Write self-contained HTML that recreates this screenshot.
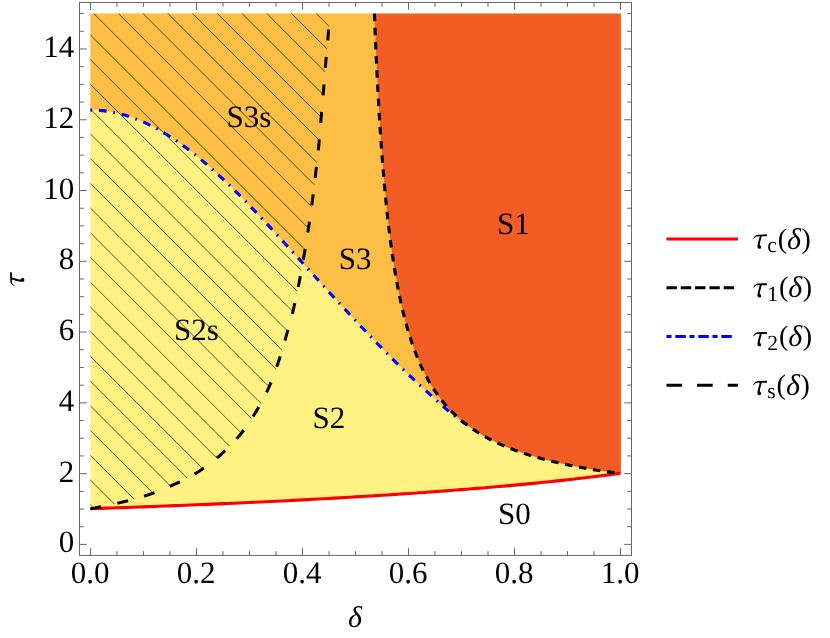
<!DOCTYPE html>
<html><head><meta charset="utf-8"><title>Phase diagram</title>
<style>html,body{margin:0;padding:0;background:#fff}body{width:830px;height:638px;overflow:hidden;font-family:"Liberation Serif",serif}svg{display:block;text-rendering:geometricPrecision;will-change:transform}</style></head>
<body>
<svg width="830" height="638" viewBox="0 0 830 638">
<rect width="830" height="638" fill="#fff"/>
<polygon fill="#FFF282" points="90.45,508.71 95.75,508.54 101.05,508.36 106.35,508.17 111.65,507.99 116.95,507.81 122.25,507.62 127.55,507.43 132.85,507.24 138.15,507.05 143.45,506.85 148.76,506.65 154.06,506.45 159.36,506.25 164.66,506.05 169.96,505.84 175.26,505.64 180.56,505.43 185.86,505.21 191.16,505.00 196.46,504.78 201.76,504.56 207.06,504.34 212.36,504.11 217.66,503.89 222.96,503.66 228.26,503.43 233.56,503.19 238.86,502.95 244.16,502.71 249.46,502.47 254.77,502.22 260.07,501.97 265.37,501.72 270.67,501.47 275.97,501.21 281.27,500.95 286.57,500.68 291.87,500.41 297.17,500.14 302.47,499.87 307.77,499.59 313.07,499.31 318.37,499.02 323.67,498.73 328.97,498.44 334.27,498.14 339.57,497.84 344.87,497.54 350.17,497.23 355.47,496.92 360.78,496.60 366.08,496.28 371.38,495.95 376.68,495.62 381.98,495.29 387.28,494.95 392.58,494.61 397.88,494.26 403.18,493.91 408.48,493.55 413.78,493.18 419.08,492.81 424.38,492.44 429.68,492.06 434.98,491.67 440.28,491.28 445.58,490.89 450.88,490.48 456.18,490.07 461.49,489.66 466.79,489.24 472.09,488.81 477.39,488.37 482.69,487.93 487.99,487.48 493.29,487.02 498.59,486.56 503.89,486.09 509.19,485.61 514.49,485.12 519.79,484.63 525.09,484.12 530.39,483.61 535.69,483.09 540.99,482.56 546.29,482.02 551.59,481.47 556.89,480.91 562.19,480.34 567.50,479.76 572.80,479.17 578.10,478.57 583.40,477.96 588.70,477.33 594.00,476.70 599.30,476.05 604.60,475.39 609.90,474.71 615.20,474.03 620.50,473.33 620.85,473.63 620.85,13.59 90.45,13.59"/>
<polygon fill="#FDBE45" points="90.40,110.08 92.40,110.10 94.40,110.12 96.40,110.18 98.40,110.29 100.40,110.44 102.40,110.62 104.40,110.84 106.40,111.09 108.40,111.38 110.40,111.71 112.40,112.07 114.40,112.47 116.40,112.90 118.40,113.36 120.40,113.86 122.40,114.40 124.40,114.97 126.40,115.57 128.40,116.20 130.41,116.87 132.40,117.57 134.37,118.30 136.33,119.07 138.30,119.87 140.29,120.70 142.30,121.56 144.30,122.45 146.30,123.38 148.30,124.33 150.30,125.32 152.30,126.34 154.30,127.38 156.30,128.46 158.30,129.56 160.30,130.70 162.30,131.86 164.30,133.05 166.30,134.27 168.30,135.51 170.30,136.78 172.30,138.08 174.30,139.41 176.30,140.77 178.30,142.15 180.30,143.56 182.30,144.99 184.30,146.45 186.30,147.93 188.30,149.44 190.30,150.97 192.30,152.52 194.30,154.09 196.30,155.69 198.30,157.31 200.30,158.95 202.30,160.62 204.30,162.31 206.30,164.02 208.30,165.75 210.30,167.50 212.30,169.27 214.30,171.06 216.30,172.87 218.30,174.70 220.30,176.55 222.30,178.41 224.30,180.29 226.31,182.19 228.30,184.11 230.27,186.04 232.23,187.99 234.20,189.95 236.19,191.93 238.20,193.92 240.20,195.92 242.20,197.94 244.20,199.97 246.20,202.02 248.20,204.08 250.20,206.15 252.20,208.23 254.20,210.32 256.20,212.42 258.20,214.53 260.20,216.65 262.20,218.79 264.20,220.93 266.20,223.08 268.20,225.23 270.20,227.39 272.20,229.56 274.20,231.73 276.20,233.91 278.20,236.10 280.20,238.29 282.20,240.48 284.20,242.68 286.20,244.88 288.20,247.08 290.20,249.28 292.20,251.49 294.20,253.69 296.20,255.90 298.20,258.10 300.20,260.31 302.20,262.52 304.20,264.72 306.20,266.93 308.20,269.13 310.20,271.33 312.20,273.53 314.20,275.73 316.20,277.93 318.20,280.12 320.20,282.31 322.21,284.50 324.20,286.68 326.17,288.86 328.13,291.04 330.10,293.21 332.09,295.38 334.10,297.55 336.10,299.72 338.10,301.89 340.10,304.05 342.10,306.21 344.10,308.36 346.10,310.51 348.10,312.66 350.10,314.81 352.10,316.95 354.10,319.09 356.10,321.22 358.10,323.36 360.10,325.48 362.10,327.60 364.10,329.71 366.10,331.82 368.10,333.93 370.10,336.03 372.10,338.12 374.10,340.20 376.10,342.28 378.10,344.35 380.10,346.41 382.10,348.47 384.10,350.51 386.10,352.54 388.10,354.56 390.10,356.57 392.10,358.57 394.10,360.56 396.10,362.54 398.10,364.50 400.10,366.46 402.10,368.40 404.10,370.33 406.10,372.26 408.10,374.17 410.10,376.07 412.10,377.95 414.10,379.83 416.10,381.70 418.11,383.56 420.10,385.41 422.07,387.25 424.03,389.08 426.00,390.91 427.99,392.73 430.00,394.54 432.00,396.35 434.00,398.16 436.00,399.96 438.00,401.75 440.00,403.53 442.00,405.31 444.00,407.07 446.00,408.82 448.00,410.54 450.00,412.24 452.00,413.91 454.00,415.54 456.00,417.12 458.00,418.65 460.00,420.13 462.00,421.53 464.00,422.82 466.00,424.02 468.00,425.23 467.28,425.13 465.49,423.77 463.71,422.37 461.93,420.92 460.15,419.42 458.37,417.86 456.59,416.26 454.80,414.59 453.02,412.87 451.24,411.08 449.46,409.23 447.68,407.30 445.90,405.29 444.11,403.21 442.33,401.04 440.55,398.78 438.77,396.42 436.99,393.96 435.21,391.39 433.42,388.70 431.64,385.88 429.86,382.93 428.08,379.84 426.30,376.59 424.52,373.17 422.73,369.57 420.95,365.78 419.17,361.77 417.39,357.54 415.61,353.05 413.83,348.29 412.04,343.22 410.26,337.83 408.48,332.08 408.19,331.12 407.91,330.15 407.62,329.16 407.33,328.17 407.05,327.17 406.76,326.15 406.48,325.12 406.19,324.09 405.90,323.04 405.62,321.97 405.33,320.90 405.04,319.81 404.76,318.71 404.47,317.60 404.18,316.48 403.90,315.34 403.61,314.19 403.33,313.02 403.04,311.84 402.75,310.65 402.47,309.44 402.18,308.21 401.89,306.97 401.61,305.72 401.32,304.45 401.04,303.17 400.75,301.86 400.46,300.55 400.18,299.21 399.89,297.86 399.60,296.49 399.32,295.10 399.03,293.69 398.74,292.27 398.46,290.82 398.17,289.36 397.89,287.88 397.60,286.37 397.31,284.85 397.03,283.31 396.74,281.74 396.45,280.15 396.17,278.54 395.88,276.91 395.59,275.25 395.31,273.57 395.02,271.87 394.74,270.14 394.45,268.38 394.16,266.60 393.88,264.79 393.59,262.96 393.30,261.10 393.02,259.20 392.73,257.28 392.44,255.34 392.16,253.35 391.87,251.34 391.59,249.30 391.30,247.22 391.01,245.12 390.73,242.97 390.44,240.79 390.15,238.58 389.87,236.33 389.58,234.04 389.30,231.71 389.01,229.34 388.72,226.93 388.44,224.48 388.15,221.99 387.86,219.45 387.58,216.87 387.29,214.24 387.00,211.56 386.72,208.84 386.43,206.06 386.15,203.23 385.86,200.35 385.57,197.41 385.29,194.42 385.00,191.37 384.71,188.26 384.43,185.09 384.14,181.85 383.85,178.55 383.57,175.18 383.28,171.74 383.00,168.23 382.71,164.65 382.42,160.99 382.14,157.25 381.85,153.44 381.56,149.53 381.28,145.54 380.99,141.46 380.70,137.29 380.42,133.03 380.13,128.66 379.85,124.19 379.56,119.62 379.27,114.93 378.99,110.13 378.70,105.21 378.41,100.17 378.13,95.00 377.84,89.70 377.56,84.27 377.27,78.69 376.98,72.96 376.70,67.07 376.41,61.03 376.12,54.82 375.84,48.43 375.55,41.86 375.26,35.10 374.98,28.14 374.69,20.98 374.41,13.59 90.45,13.59"/>
<polygon fill="#F25D26" points="374.41,13.59 374.69,20.98 374.98,28.14 375.26,35.10 375.55,41.86 375.84,48.43 376.12,54.82 376.41,61.03 376.70,67.07 376.98,72.96 377.27,78.69 377.56,84.27 377.84,89.70 378.13,95.00 378.41,100.17 378.70,105.21 378.99,110.13 379.27,114.93 379.56,119.62 379.85,124.19 380.13,128.66 380.42,133.03 380.70,137.29 380.99,141.46 381.28,145.54 381.56,149.53 381.85,153.44 382.14,157.25 382.42,160.99 382.71,164.65 383.00,168.23 383.28,171.74 383.57,175.18 383.85,178.55 384.14,181.85 384.43,185.09 384.71,188.26 385.00,191.37 385.29,194.42 385.57,197.41 385.86,200.35 386.15,203.23 386.43,206.06 386.72,208.84 387.00,211.56 387.29,214.24 387.58,216.87 387.86,219.45 388.15,221.99 388.44,224.48 388.72,226.93 389.01,229.34 389.30,231.71 389.58,234.04 389.87,236.33 390.15,238.58 390.44,240.79 390.73,242.97 391.01,245.12 391.30,247.22 391.59,249.30 391.87,251.34 392.16,253.35 392.44,255.34 392.73,257.28 393.02,259.20 393.30,261.10 393.59,262.96 393.88,264.79 394.16,266.60 394.45,268.38 394.74,270.14 395.02,271.87 395.31,273.57 395.59,275.25 395.88,276.91 396.17,278.54 396.45,280.15 396.74,281.74 397.03,283.31 397.31,284.85 397.60,286.37 397.89,287.88 398.17,289.36 398.46,290.82 398.74,292.27 399.03,293.69 399.32,295.10 399.60,296.49 399.89,297.86 400.18,299.21 400.46,300.55 400.75,301.86 401.04,303.17 401.32,304.45 401.61,305.72 401.89,306.97 402.18,308.21 402.47,309.44 402.75,310.65 403.04,311.84 403.33,313.02 403.61,314.19 403.90,315.34 404.18,316.48 404.47,317.60 404.76,318.71 405.04,319.81 405.33,320.90 405.62,321.97 405.90,323.04 406.19,324.09 406.48,325.12 406.76,326.15 407.05,327.17 407.33,328.17 407.62,329.16 407.91,330.15 408.19,331.12 408.48,332.08 410.26,337.83 412.04,343.22 413.83,348.29 415.61,353.05 417.39,357.54 419.17,361.77 420.95,365.78 422.73,369.57 424.52,373.17 426.30,376.59 428.08,379.84 429.86,382.93 431.64,385.88 433.42,388.70 435.21,391.39 436.99,393.96 438.77,396.42 440.55,398.78 442.33,401.04 444.11,403.21 445.90,405.29 447.68,407.30 449.46,409.23 451.24,411.08 453.02,412.87 454.80,414.59 456.59,416.26 458.37,417.86 460.15,419.42 461.93,420.92 463.71,422.37 465.49,423.77 467.28,425.13 469.06,426.44 470.84,427.72 472.62,428.95 474.40,430.15 476.18,431.32 477.97,432.45 479.75,433.55 481.53,434.61 483.31,435.65 485.09,436.66 486.87,437.64 488.66,438.59 490.44,439.52 492.22,440.43 494.00,441.31 495.78,442.17 497.56,443.01 499.35,443.83 501.13,444.62 502.91,445.40 504.69,446.16 506.47,446.90 508.25,447.63 510.04,448.34 511.82,449.03 513.60,449.70 515.38,450.36 517.16,451.01 518.94,451.64 520.73,452.26 522.51,452.87 524.29,453.46 526.07,454.04 527.85,454.61 529.63,455.16 531.42,455.71 533.20,456.24 534.98,456.77 536.76,457.28 538.54,457.78 540.32,458.28 542.11,458.76 543.89,459.24 545.67,459.70 547.45,460.16 549.23,460.61 551.01,461.05 552.80,461.48 554.58,461.91 556.36,462.33 558.14,462.74 559.92,463.14 561.70,463.54 563.49,463.93 565.27,464.31 567.05,464.69 568.83,465.06 570.61,465.42 572.39,465.78 574.18,466.13 575.96,466.48 577.74,466.82 579.52,467.15 581.30,467.48 583.08,467.81 584.87,468.13 586.65,468.44 588.43,468.75 590.21,469.06 591.99,469.36 593.77,469.66 595.56,469.95 597.34,470.24 599.12,470.52 600.90,470.80 602.68,471.08 604.46,471.35 606.25,471.61 608.03,471.88 609.81,472.14 611.59,472.40 613.37,472.65 615.15,472.90 616.94,473.14 618.72,473.39 620.50,473.63 620.85,473.63 620.85,13.59"/>
<defs><clipPath id="hc"><polygon points="90.40,508.90 93.10,508.35 95.80,507.81 98.49,507.27 101.19,506.74 103.88,506.21 106.58,505.66 109.28,505.10 111.98,504.53 114.69,503.93 117.40,503.30 120.12,502.65 122.86,501.99 125.62,501.32 128.37,500.63 131.12,499.92 133.87,499.19 136.61,498.43 139.33,497.65 142.03,496.84 144.70,496.00 147.35,495.13 149.97,494.23 152.58,493.30 155.18,492.35 157.76,491.38 160.32,490.37 162.88,489.34 165.43,488.29 167.97,487.21 170.50,486.10 173.03,484.97 175.57,483.82 178.11,482.64 180.64,481.44 183.16,480.21 185.65,478.96 188.12,477.67 190.55,476.35 192.95,474.99 195.30,473.60 197.60,472.18 199.87,470.72 202.10,469.24 204.29,467.72 206.46,466.18 208.61,464.59 210.73,462.98 212.83,461.32 214.92,459.63 217.00,457.90 219.08,456.12 221.16,454.29 223.22,452.41 225.28,450.50 227.31,448.55 229.30,446.58 231.26,444.59 233.16,442.59 235.01,440.59 236.80,438.60 238.51,436.62 240.14,434.67 241.71,432.72 243.23,430.76 244.71,428.78 246.17,426.77 247.61,424.71 249.06,422.58 250.52,420.39 252.00,418.10 253.52,415.71 255.06,413.20 256.62,410.62 258.18,407.97 259.73,405.27 261.25,402.56 262.73,399.84 264.16,397.15 265.52,394.49 266.80,391.90 268.00,389.36 269.12,386.86 270.18,384.38 271.19,381.92 272.16,379.47 273.10,377.01 274.01,374.55 274.91,372.06 275.80,369.55 276.70,367.00 277.59,364.42 278.46,361.81 279.31,359.18 280.14,356.54 280.95,353.88 281.75,351.21 282.54,348.54 283.33,345.86 284.12,343.18 284.90,340.50 285.69,337.82 286.47,335.14 287.25,332.45 288.02,329.75 288.79,327.05 289.54,324.35 290.28,321.64 291.01,318.93 291.71,316.21 292.40,313.50 293.07,310.78 293.71,308.05 294.34,305.31 294.96,302.56 295.56,299.82 296.15,297.08 296.73,294.34 297.29,291.61 297.85,288.90 298.40,286.20 298.94,283.52 299.46,280.87 299.96,278.24 300.45,275.61 300.94,272.99 301.41,270.36 301.89,267.73 302.36,265.08 302.83,262.40 303.30,259.70 303.78,256.96 304.25,254.19 304.72,251.40 305.20,248.59 305.66,245.77 306.12,242.95 306.58,240.13 307.03,237.33 307.47,234.55 307.90,231.80 308.32,229.08 308.73,226.37 309.14,223.69 309.54,221.01 309.93,218.34 310.32,215.68 310.70,213.02 311.07,210.36 311.44,207.68 311.80,205.00 312.15,202.31 312.50,199.62 312.84,196.94 313.17,194.25 313.49,191.56 313.82,188.86 314.14,186.16 314.46,183.45 314.78,180.73 315.10,178.00 315.43,175.26 315.76,172.50 316.09,169.74 316.43,166.97 316.76,164.19 317.08,161.41 317.40,158.63 317.71,155.85 318.01,153.07 318.30,150.30 318.57,147.53 318.83,144.75 319.08,141.98 319.32,139.20 319.55,136.43 319.78,133.65 320.01,130.88 320.23,128.11 320.46,125.35 320.70,122.60 320.94,119.85 321.18,117.11 321.43,114.38 321.67,111.65 321.91,108.92 322.15,106.20 322.39,103.48 322.63,100.75 322.87,98.03 323.10,95.30 323.33,92.57 323.55,89.84 323.77,87.12 323.98,84.39 324.20,81.66 324.42,78.93 324.63,76.20 324.85,73.47 325.07,70.74 325.30,68.00 325.53,65.26 325.77,62.50 326.00,59.75 326.24,56.99 326.48,54.22 326.72,51.47 326.97,48.71 327.21,45.96 327.46,43.23 327.70,40.50 327.95,37.79 328.19,35.08 328.44,32.39 328.69,29.70 328.94,27.01 329.20,24.33 329.45,21.65 329.70,18.97 329.95,16.29 330.20,13.60 90.45,13.59"/></clipPath></defs>
<path clip-path="url(#hc)" d="M88.45 -263.76L340.00 -12.21M88.45 -239.03L340.00 12.52M88.45 -214.30L340.00 37.25M88.45 -189.57L340.00 61.98M88.45 -164.84L340.00 86.71M88.45 -140.11L340.00 111.44M88.45 -115.38L340.00 136.17M88.45 -90.65L340.00 160.90M88.45 -65.92L340.00 185.63M88.45 -41.19L340.00 210.36M88.45 -16.46L340.00 235.09M88.45 8.27L340.00 259.82M88.45 33.00L340.00 284.55M88.45 57.73L340.00 309.28M88.45 82.46L340.00 334.01M88.45 107.19L340.00 358.74M88.45 131.92L340.00 383.47M88.45 156.65L340.00 408.20M88.45 181.38L340.00 432.93M88.45 206.11L340.00 457.66M88.45 230.84L340.00 482.39M88.45 255.57L340.00 507.12M88.45 280.30L340.00 531.85M88.45 305.03L340.00 556.58M88.45 329.76L340.00 581.31M88.45 354.49L340.00 606.04M88.45 379.22L340.00 630.77M88.45 403.95L340.00 655.50M88.45 428.68L340.00 680.23M88.45 453.41L340.00 704.96M88.45 478.14L340.00 729.69M88.45 502.87L340.00 754.42M88.45 527.60L340.00 779.15M88.45 552.33L340.00 803.88" stroke="#000" stroke-opacity="0.85" stroke-width="0.75" fill="none"/>
<path d="M90.45 508.71 L95.75 508.54 L101.05 508.36 L106.35 508.17 L111.65 507.99 L116.95 507.81 L122.25 507.62 L127.55 507.43 L132.85 507.24 L138.15 507.05 L143.45 506.85 L148.76 506.65 L154.06 506.45 L159.36 506.25 L164.66 506.05 L169.96 505.84 L175.26 505.64 L180.56 505.43 L185.86 505.21 L191.16 505.00 L196.46 504.78 L201.76 504.56 L207.06 504.34 L212.36 504.11 L217.66 503.89 L222.96 503.66 L228.26 503.43 L233.56 503.19 L238.86 502.95 L244.16 502.71 L249.46 502.47 L254.77 502.22 L260.07 501.97 L265.37 501.72 L270.67 501.47 L275.97 501.21 L281.27 500.95 L286.57 500.68 L291.87 500.41 L297.17 500.14 L302.47 499.87 L307.77 499.59 L313.07 499.31 L318.37 499.02 L323.67 498.73 L328.97 498.44 L334.27 498.14 L339.57 497.84 L344.87 497.54 L350.17 497.23 L355.47 496.92 L360.78 496.60 L366.08 496.28 L371.38 495.95 L376.68 495.62 L381.98 495.29 L387.28 494.95 L392.58 494.61 L397.88 494.26 L403.18 493.91 L408.48 493.55 L413.78 493.18 L419.08 492.81 L424.38 492.44 L429.68 492.06 L434.98 491.67 L440.28 491.28 L445.58 490.89 L450.88 490.48 L456.18 490.07 L461.49 489.66 L466.79 489.24 L472.09 488.81 L477.39 488.37 L482.69 487.93 L487.99 487.48 L493.29 487.02 L498.59 486.56 L503.89 486.09 L509.19 485.61 L514.49 485.12 L519.79 484.63 L525.09 484.12 L530.39 483.61 L535.69 483.09 L540.99 482.56 L546.29 482.02 L551.59 481.47 L556.89 480.91 L562.19 480.34 L567.50 479.76 L572.80 479.17 L578.10 478.57 L583.40 477.96 L588.70 477.33 L594.00 476.70 L599.30 476.05 L604.60 475.39 L609.90 474.71 L615.20 474.03 L620.50 473.33" stroke="#FF0000" stroke-width="3.1" fill="none"/>
<path d="M90.40 508.90 L93.10 508.35 L95.80 507.81 L98.49 507.27 L101.19 506.74 L103.88 506.21 L106.58 505.66 L109.28 505.10 L111.98 504.53 L114.69 503.93 L117.40 503.30 L120.12 502.65 L122.86 501.99 L125.62 501.32 L128.37 500.63 L131.12 499.92 L133.87 499.19 L136.61 498.43 L139.33 497.65 L142.03 496.84 L144.70 496.00 L147.35 495.13 L149.97 494.23 L152.58 493.30 L155.18 492.35 L157.76 491.38 L160.32 490.37 L162.88 489.34 L165.43 488.29 L167.97 487.21 L170.50 486.10 L173.03 484.97 L175.57 483.82 L178.11 482.64 L180.64 481.44 L183.16 480.21 L185.65 478.96 L188.12 477.67 L190.55 476.35 L192.95 474.99 L195.30 473.60 L197.60 472.18 L199.87 470.72 L202.10 469.24 L204.29 467.72 L206.46 466.18 L208.61 464.59 L210.73 462.98 L212.83 461.32 L214.92 459.63 L217.00 457.90 L219.08 456.12 L221.16 454.29 L223.22 452.41 L225.28 450.50 L227.31 448.55 L229.30 446.58 L231.26 444.59 L233.16 442.59 L235.01 440.59 L236.80 438.60 L238.51 436.62 L240.14 434.67 L241.71 432.72 L243.23 430.76 L244.71 428.78 L246.17 426.77 L247.61 424.71 L249.06 422.58 L250.52 420.39 L252.00 418.10 L253.52 415.71 L255.06 413.20 L256.62 410.62 L258.18 407.97 L259.73 405.27 L261.25 402.56 L262.73 399.84 L264.16 397.15 L265.52 394.49 L266.80 391.90 L268.00 389.36 L269.12 386.86 L270.18 384.38 L271.19 381.92 L272.16 379.47 L273.10 377.01 L274.01 374.55 L274.91 372.06 L275.80 369.55 L276.70 367.00 L277.59 364.42 L278.46 361.81 L279.31 359.18 L280.14 356.54 L280.95 353.88 L281.75 351.21 L282.54 348.54 L283.33 345.86 L284.12 343.18 L284.90 340.50 L285.69 337.82 L286.47 335.14 L287.25 332.45 L288.02 329.75 L288.79 327.05 L289.54 324.35 L290.28 321.64 L291.01 318.93 L291.71 316.21 L292.40 313.50 L293.07 310.78 L293.71 308.05 L294.34 305.31 L294.96 302.56 L295.56 299.82 L296.15 297.08 L296.73 294.34 L297.29 291.61 L297.85 288.90 L298.40 286.20 L298.94 283.52 L299.46 280.87 L299.96 278.24 L300.45 275.61 L300.94 272.99 L301.41 270.36 L301.89 267.73 L302.36 265.08 L302.83 262.40 L303.30 259.70 L303.78 256.96 L304.25 254.19 L304.72 251.40 L305.20 248.59 L305.66 245.77 L306.12 242.95 L306.58 240.13 L307.03 237.33 L307.47 234.55 L307.90 231.80 L308.32 229.08 L308.73 226.37 L309.14 223.69 L309.54 221.01 L309.93 218.34 L310.32 215.68 L310.70 213.02 L311.07 210.36 L311.44 207.68 L311.80 205.00 L312.15 202.31 L312.50 199.62 L312.84 196.94 L313.17 194.25 L313.49 191.56 L313.82 188.86 L314.14 186.16 L314.46 183.45 L314.78 180.73 L315.10 178.00 L315.43 175.26 L315.76 172.50 L316.09 169.74 L316.43 166.97 L316.76 164.19 L317.08 161.41 L317.40 158.63 L317.71 155.85 L318.01 153.07 L318.30 150.30 L318.57 147.53 L318.83 144.75 L319.08 141.98 L319.32 139.20 L319.55 136.43 L319.78 133.65 L320.01 130.88 L320.23 128.11 L320.46 125.35 L320.70 122.60 L320.94 119.85 L321.18 117.11 L321.43 114.38 L321.67 111.65 L321.91 108.92 L322.15 106.20 L322.39 103.48 L322.63 100.75 L322.87 98.03 L323.10 95.30 L323.33 92.57 L323.55 89.84 L323.77 87.12 L323.98 84.39 L324.20 81.66 L324.42 78.93 L324.63 76.20 L324.85 73.47 L325.07 70.74 L325.30 68.00 L325.53 65.26 L325.77 62.50 L326.00 59.75 L326.24 56.99 L326.48 54.22 L326.72 51.47 L326.97 48.71 L327.21 45.96 L327.46 43.23 L327.70 40.50 L327.95 37.79 L328.19 35.08 L328.44 32.39 L328.69 29.70 L328.94 27.01 L329.20 24.33 L329.45 21.65 L329.70 18.97 L329.95 16.29 L330.20 13.60" stroke="#000" stroke-width="3" fill="none" stroke-dasharray="11 16.6"/>
<path d="M90.40 110.08 L92.40 110.10 L94.40 110.12 L96.40 110.18 L98.40 110.29 L100.40 110.44 L102.40 110.62 L104.40 110.84 L106.40 111.09 L108.40 111.38 L110.40 111.71 L112.40 112.07 L114.40 112.47 L116.40 112.90 L118.40 113.36 L120.40 113.86 L122.40 114.40 L124.40 114.97 L126.40 115.57 L128.40 116.20 L130.41 116.87 L132.40 117.57 L134.37 118.30 L136.33 119.07 L138.30 119.87 L140.29 120.70 L142.30 121.56 L144.30 122.45 L146.30 123.38 L148.30 124.33 L150.30 125.32 L152.30 126.34 L154.30 127.38 L156.30 128.46 L158.30 129.56 L160.30 130.70 L162.30 131.86 L164.30 133.05 L166.30 134.27 L168.30 135.51 L170.30 136.78 L172.30 138.08 L174.30 139.41 L176.30 140.77 L178.30 142.15 L180.30 143.56 L182.30 144.99 L184.30 146.45 L186.30 147.93 L188.30 149.44 L190.30 150.97 L192.30 152.52 L194.30 154.09 L196.30 155.69 L198.30 157.31 L200.30 158.95 L202.30 160.62 L204.30 162.31 L206.30 164.02 L208.30 165.75 L210.30 167.50 L212.30 169.27 L214.30 171.06 L216.30 172.87 L218.30 174.70 L220.30 176.55 L222.30 178.41 L224.30 180.29 L226.31 182.19 L228.30 184.11 L230.27 186.04 L232.23 187.99 L234.20 189.95 L236.19 191.93 L238.20 193.92 L240.20 195.92 L242.20 197.94 L244.20 199.97 L246.20 202.02 L248.20 204.08 L250.20 206.15 L252.20 208.23 L254.20 210.32 L256.20 212.42 L258.20 214.53 L260.20 216.65 L262.20 218.79 L264.20 220.93 L266.20 223.08 L268.20 225.23 L270.20 227.39 L272.20 229.56 L274.20 231.73 L276.20 233.91 L278.20 236.10 L280.20 238.29 L282.20 240.48 L284.20 242.68 L286.20 244.88 L288.20 247.08 L290.20 249.28 L292.20 251.49 L294.20 253.69 L296.20 255.90 L298.20 258.10 L300.20 260.31 L302.20 262.52 L304.20 264.72 L306.20 266.93 L308.20 269.13 L310.20 271.33 L312.20 273.53 L314.20 275.73 L316.20 277.93 L318.20 280.12 L320.20 282.31 L322.21 284.50 L324.20 286.68 L326.17 288.86 L328.13 291.04 L330.10 293.21 L332.09 295.38 L334.10 297.55 L336.10 299.72 L338.10 301.89 L340.10 304.05 L342.10 306.21 L344.10 308.36 L346.10 310.51 L348.10 312.66 L350.10 314.81 L352.10 316.95 L354.10 319.09 L356.10 321.22 L358.10 323.36 L360.10 325.48 L362.10 327.60 L364.10 329.71 L366.10 331.82 L368.10 333.93 L370.10 336.03 L372.10 338.12 L374.10 340.20 L376.10 342.28 L378.10 344.35 L380.10 346.41 L382.10 348.47 L384.10 350.51 L386.10 352.54 L388.10 354.56 L390.10 356.57 L392.10 358.57 L394.10 360.56 L396.10 362.54 L398.10 364.50 L400.10 366.46 L402.10 368.40 L404.10 370.33 L406.10 372.26 L408.10 374.17 L410.10 376.07 L412.10 377.95 L414.10 379.83 L416.10 381.70 L418.11 383.56 L420.10 385.41 L422.07 387.25 L424.03 389.08 L426.00 390.91 L427.99 392.73 L430.00 394.54 L432.00 396.35 L434.00 398.16 L436.00 399.96 L438.00 401.75 L440.00 403.53 L442.00 405.31 L444.00 407.07 L446.00 408.82 L448.00 410.54 L450.00 412.24 L452.00 413.91 L454.00 415.54 L456.00 417.12 L458.00 418.65 L460.00 420.13 L462.00 421.53 L464.00 422.82 L466.00 424.02 L468.00 425.23" stroke="#0000FF" stroke-width="3.1" fill="none" stroke-dasharray="1.7 6.8 7.75 6.8"/>
<path d="M374.41 13.59 L374.69 20.98 L374.98 28.14 L375.26 35.10 L375.55 41.86 L375.84 48.43 L376.12 54.82 L376.41 61.03 L376.70 67.07 L376.98 72.96 L377.27 78.69 L377.56 84.27 L377.84 89.70 L378.13 95.00 L378.41 100.17 L378.70 105.21 L378.99 110.13 L379.27 114.93 L379.56 119.62 L379.85 124.19 L380.13 128.66 L380.42 133.03 L380.70 137.29 L380.99 141.46 L381.28 145.54 L381.56 149.53 L381.85 153.44 L382.14 157.25 L382.42 160.99 L382.71 164.65 L383.00 168.23 L383.28 171.74 L383.57 175.18 L383.85 178.55 L384.14 181.85 L384.43 185.09 L384.71 188.26 L385.00 191.37 L385.29 194.42 L385.57 197.41 L385.86 200.35 L386.15 203.23 L386.43 206.06 L386.72 208.84 L387.00 211.56 L387.29 214.24 L387.58 216.87 L387.86 219.45 L388.15 221.99 L388.44 224.48 L388.72 226.93 L389.01 229.34 L389.30 231.71 L389.58 234.04 L389.87 236.33 L390.15 238.58 L390.44 240.79 L390.73 242.97 L391.01 245.12 L391.30 247.22 L391.59 249.30 L391.87 251.34 L392.16 253.35 L392.44 255.34 L392.73 257.28 L393.02 259.20 L393.30 261.10 L393.59 262.96 L393.88 264.79 L394.16 266.60 L394.45 268.38 L394.74 270.14 L395.02 271.87 L395.31 273.57 L395.59 275.25 L395.88 276.91 L396.17 278.54 L396.45 280.15 L396.74 281.74 L397.03 283.31 L397.31 284.85 L397.60 286.37 L397.89 287.88 L398.17 289.36 L398.46 290.82 L398.74 292.27 L399.03 293.69 L399.32 295.10 L399.60 296.49 L399.89 297.86 L400.18 299.21 L400.46 300.55 L400.75 301.86 L401.04 303.17 L401.32 304.45 L401.61 305.72 L401.89 306.97 L402.18 308.21 L402.47 309.44 L402.75 310.65 L403.04 311.84 L403.33 313.02 L403.61 314.19 L403.90 315.34 L404.18 316.48 L404.47 317.60 L404.76 318.71 L405.04 319.81 L405.33 320.90 L405.62 321.97 L405.90 323.04 L406.19 324.09 L406.48 325.12 L406.76 326.15 L407.05 327.17 L407.33 328.17 L407.62 329.16 L407.91 330.15 L408.19 331.12 L408.48 332.08 L410.26 337.83 L412.04 343.22 L413.83 348.29 L415.61 353.05 L417.39 357.54 L419.17 361.77 L420.95 365.78 L422.73 369.57 L424.52 373.17 L426.30 376.59 L428.08 379.84 L429.86 382.93 L431.64 385.88 L433.42 388.70 L435.21 391.39 L436.99 393.96 L438.77 396.42 L440.55 398.78 L442.33 401.04 L444.11 403.21 L445.90 405.29 L447.68 407.30 L449.46 409.23 L451.24 411.08 L453.02 412.87 L454.80 414.59 L456.59 416.26 L458.37 417.86 L460.15 419.42 L461.93 420.92 L463.71 422.37 L465.49 423.77 L467.28 425.13 L469.06 426.44 L470.84 427.72 L472.62 428.95 L474.40 430.15 L476.18 431.32 L477.97 432.45 L479.75 433.55 L481.53 434.61 L483.31 435.65 L485.09 436.66 L486.87 437.64 L488.66 438.59 L490.44 439.52 L492.22 440.43 L494.00 441.31 L495.78 442.17 L497.56 443.01 L499.35 443.83 L501.13 444.62 L502.91 445.40 L504.69 446.16 L506.47 446.90 L508.25 447.63 L510.04 448.34 L511.82 449.03 L513.60 449.70 L515.38 450.36 L517.16 451.01 L518.94 451.64 L520.73 452.26 L522.51 452.87 L524.29 453.46 L526.07 454.04 L527.85 454.61 L529.63 455.16 L531.42 455.71 L533.20 456.24 L534.98 456.77 L536.76 457.28 L538.54 457.78 L540.32 458.28 L542.11 458.76 L543.89 459.24 L545.67 459.70 L547.45 460.16 L549.23 460.61 L551.01 461.05 L552.80 461.48 L554.58 461.91 L556.36 462.33 L558.14 462.74 L559.92 463.14 L561.70 463.54 L563.49 463.93 L565.27 464.31 L567.05 464.69 L568.83 465.06 L570.61 465.42 L572.39 465.78 L574.18 466.13 L575.96 466.48 L577.74 466.82 L579.52 467.15 L581.30 467.48 L583.08 467.81 L584.87 468.13 L586.65 468.44 L588.43 468.75 L590.21 469.06 L591.99 469.36 L593.77 469.66 L595.56 469.95 L597.34 470.24 L599.12 470.52 L600.90 470.80 L602.68 471.08 L604.46 471.35 L606.25 471.61 L608.03 471.88 L609.81 472.14 L611.59 472.40 L613.37 472.65 L615.15 472.90 L616.94 473.14 L618.72 473.39 L620.50 473.63" stroke="#000" stroke-width="3.1" fill="none" stroke-dasharray="7.5 6.69"/>
<rect x="79.5" y="2.5" width="552.00" height="552.90" fill="none" stroke="#666666" stroke-width="1"/>
<path d="M90.45 555.4v-7.3M90.45 2.5v7.3M116.95 555.4v-4.3M116.95 2.5v4.3M143.45 555.4v-4.3M143.45 2.5v4.3M169.96 555.4v-4.3M169.96 2.5v4.3M196.46 555.4v-7.3M196.46 2.5v7.3M222.96 555.4v-4.3M222.96 2.5v4.3M249.47 555.4v-4.3M249.47 2.5v4.3M275.97 555.4v-4.3M275.97 2.5v4.3M302.47 555.4v-7.3M302.47 2.5v7.3M328.97 555.4v-4.3M328.97 2.5v4.3M355.47 555.4v-4.3M355.47 2.5v4.3M381.98 555.4v-4.3M381.98 2.5v4.3M408.48 555.4v-7.3M408.48 2.5v7.3M434.98 555.4v-4.3M434.98 2.5v4.3M461.49 555.4v-4.3M461.49 2.5v4.3M487.99 555.4v-4.3M487.99 2.5v4.3M514.49 555.4v-7.3M514.49 2.5v7.3M540.99 555.4v-4.3M540.99 2.5v4.3M567.50 555.4v-4.3M567.50 2.5v4.3M594.00 555.4v-4.3M594.00 2.5v4.3M620.50 555.4v-7.3M620.50 2.5v7.3M79.5 544.40h7.3M631.5 544.40h-7.3M79.5 526.71h4.3M631.5 526.71h-4.3M79.5 509.01h4.3M631.5 509.01h-4.3M79.5 491.32h4.3M631.5 491.32h-4.3M79.5 473.63h7.3M631.5 473.63h-7.3M79.5 455.93h4.3M631.5 455.93h-4.3M79.5 438.24h4.3M631.5 438.24h-4.3M79.5 420.55h4.3M631.5 420.55h-4.3M79.5 402.85h7.3M631.5 402.85h-7.3M79.5 385.16h4.3M631.5 385.16h-4.3M79.5 367.46h4.3M631.5 367.46h-4.3M79.5 349.77h4.3M631.5 349.77h-4.3M79.5 332.08h7.3M631.5 332.08h-7.3M79.5 314.38h4.3M631.5 314.38h-4.3M79.5 296.69h4.3M631.5 296.69h-4.3M79.5 279.00h4.3M631.5 279.00h-4.3M79.5 261.30h7.3M631.5 261.30h-7.3M79.5 243.61h4.3M631.5 243.61h-4.3M79.5 225.92h4.3M631.5 225.92h-4.3M79.5 208.22h4.3M631.5 208.22h-4.3M79.5 190.53h7.3M631.5 190.53h-7.3M79.5 172.84h4.3M631.5 172.84h-4.3M79.5 155.14h4.3M631.5 155.14h-4.3M79.5 137.45h4.3M631.5 137.45h-4.3M79.5 119.76h7.3M631.5 119.76h-7.3M79.5 102.06h4.3M631.5 102.06h-4.3M79.5 84.37h4.3M631.5 84.37h-4.3M79.5 66.68h4.3M631.5 66.68h-4.3M79.5 48.98h7.3M631.5 48.98h-7.3M79.5 31.29h4.3M631.5 31.29h-4.3M79.5 13.59h4.3M631.5 13.59h-4.3" stroke="#666666" stroke-width="1" fill="none"/>
<g font-family="Liberation Serif, serif" font-size="31" fill="#000">
<text x="90.05" y="583.3" text-anchor="middle">0.0</text>
<text x="196.06" y="583.3" text-anchor="middle">0.2</text>
<text x="302.07" y="583.3" text-anchor="middle">0.4</text>
<text x="408.08" y="583.3" text-anchor="middle">0.6</text>
<text x="514.09" y="583.3" text-anchor="middle">0.8</text>
<text x="620.10" y="583.3" text-anchor="middle">1.0</text>
<text x="74.3" y="552.40" text-anchor="end">0</text>
<text x="74.3" y="481.63" text-anchor="end">2</text>
<text x="74.3" y="410.85" text-anchor="end">4</text>
<text x="74.3" y="340.08" text-anchor="end">6</text>
<text x="74.3" y="269.30" text-anchor="end">8</text>
<text x="74.3" y="198.53" text-anchor="end">10</text>
<text x="74.3" y="127.76" text-anchor="end">12</text>
<text x="74.3" y="56.98" text-anchor="end">14</text>
<text x="226.5" y="127.3">S3s</text>
<text x="338.8" y="269.0">S3</text>
<text x="496.9" y="233.8">S1</text>
<text x="173.9" y="340.1">S2s</text>
<text x="312.4" y="428.1">S2</text>
<text x="497.9" y="523.7">S0</text>
</g>
<text x="348.0" y="626.5" font-family="Liberation Serif, serif" font-style="italic" font-size="30" fill="#000">δ</text>
<path d="M0,-9.9C0.8,-12 2.5,-13.5 4.6,-13.8L13.8,-14.15L13.6,-12.15L8.5,-12.15L6.9,-5.9C6.6,-4.6 6.5,-3.6 6.8,-3.2C7.3,-2.9 8.0,-2.4 8.0,-1.3C8.0,-0.3 7.2,0.25 6.2,0.25C5.0,0.25 4.25,-0.6 4.25,-2.0C4.25,-3.2 4.7,-4.9 5.2,-7.2L6.6,-12.15L3.9,-12.05C2.3,-11.8 1.2,-10.8 0.4,-9.5Z" transform="translate(24.1,286.1) rotate(-90)" fill="#000"/>
<path d="M666.5 239.0H738" stroke="#FF0000" stroke-width="3" fill="none"/>
<path d="M666.5 287.8H738" stroke="#000" stroke-width="3" fill="none" stroke-dasharray="10.4 3.9"/>
<path d="M666.5 336.5H733" stroke="#0000FF" stroke-width="3" fill="none" stroke-dasharray="5 3.8 10.5 3.7"/>
<path d="M666.5 385.3H738" stroke="#000" stroke-width="3" fill="none" stroke-dasharray="15.6 15"/>
<path d="M0,-9.9C0.8,-12 2.5,-13.5 4.6,-13.8L13.8,-14.15L13.6,-12.15L8.5,-12.15L6.9,-5.9C6.6,-4.6 6.5,-3.6 6.8,-3.2C7.3,-2.9 8.0,-2.4 8.0,-1.3C8.0,-0.3 7.2,0.25 6.2,0.25C5.0,0.25 4.25,-0.6 4.25,-2.0C4.25,-3.2 4.7,-4.9 5.2,-7.2L6.6,-12.15L3.9,-12.05C2.3,-11.8 1.2,-10.8 0.4,-9.5Z" transform="translate(753.2,248.5)" fill="#000"/>
<text font-family="Liberation Serif, serif" font-size="31" fill="#000" y="248.5" x="767.3"><tspan font-size="21.6" dy="3.5">c</tspan><tspan font-size="28" dy="-4.5" dx="0.9">(</tspan><tspan font-style="italic" font-size="30" dy="1.0">δ</tspan><tspan font-size="28" dy="-1.0" dx="0.5">)</tspan></text>
<path d="M0,-9.9C0.8,-12 2.5,-13.5 4.6,-13.8L13.8,-14.15L13.6,-12.15L8.5,-12.15L6.9,-5.9C6.6,-4.6 6.5,-3.6 6.8,-3.2C7.3,-2.9 8.0,-2.4 8.0,-1.3C8.0,-0.3 7.2,0.25 6.2,0.25C5.0,0.25 4.25,-0.6 4.25,-2.0C4.25,-3.2 4.7,-4.9 5.2,-7.2L6.6,-12.15L3.9,-12.05C2.3,-11.8 1.2,-10.8 0.4,-9.5Z" transform="translate(753.2,297.3)" fill="#000"/>
<text font-family="Liberation Serif, serif" font-size="31" fill="#000" y="297.3" x="767.3"><tspan font-size="21.6" dy="3.5">1</tspan><tspan font-size="28" dy="-4.5" dx="0.9">(</tspan><tspan font-style="italic" font-size="30" dy="1.0">δ</tspan><tspan font-size="28" dy="-1.0" dx="0.5">)</tspan></text>
<path d="M0,-9.9C0.8,-12 2.5,-13.5 4.6,-13.8L13.8,-14.15L13.6,-12.15L8.5,-12.15L6.9,-5.9C6.6,-4.6 6.5,-3.6 6.8,-3.2C7.3,-2.9 8.0,-2.4 8.0,-1.3C8.0,-0.3 7.2,0.25 6.2,0.25C5.0,0.25 4.25,-0.6 4.25,-2.0C4.25,-3.2 4.7,-4.9 5.2,-7.2L6.6,-12.15L3.9,-12.05C2.3,-11.8 1.2,-10.8 0.4,-9.5Z" transform="translate(753.2,346.1)" fill="#000"/>
<text font-family="Liberation Serif, serif" font-size="31" fill="#000" y="346.1" x="767.3"><tspan font-size="21.6" dy="3.5">2</tspan><tspan font-size="28" dy="-4.5" dx="0.9">(</tspan><tspan font-style="italic" font-size="30" dy="1.0">δ</tspan><tspan font-size="28" dy="-1.0" dx="0.5">)</tspan></text>
<path d="M0,-9.9C0.8,-12 2.5,-13.5 4.6,-13.8L13.8,-14.15L13.6,-12.15L8.5,-12.15L6.9,-5.9C6.6,-4.6 6.5,-3.6 6.8,-3.2C7.3,-2.9 8.0,-2.4 8.0,-1.3C8.0,-0.3 7.2,0.25 6.2,0.25C5.0,0.25 4.25,-0.6 4.25,-2.0C4.25,-3.2 4.7,-4.9 5.2,-7.2L6.6,-12.15L3.9,-12.05C2.3,-11.8 1.2,-10.8 0.4,-9.5Z" transform="translate(753.2,394.9)" fill="#000"/>
<text font-family="Liberation Serif, serif" font-size="31" fill="#000" y="394.9" x="767.3"><tspan font-size="21.6" dy="3.5">s</tspan><tspan font-size="28" dy="-4.5" dx="0.9">(</tspan><tspan font-style="italic" font-size="30" dy="1.0">δ</tspan><tspan font-size="28" dy="-1.0" dx="0.5">)</tspan></text>
</svg>
</body></html>
